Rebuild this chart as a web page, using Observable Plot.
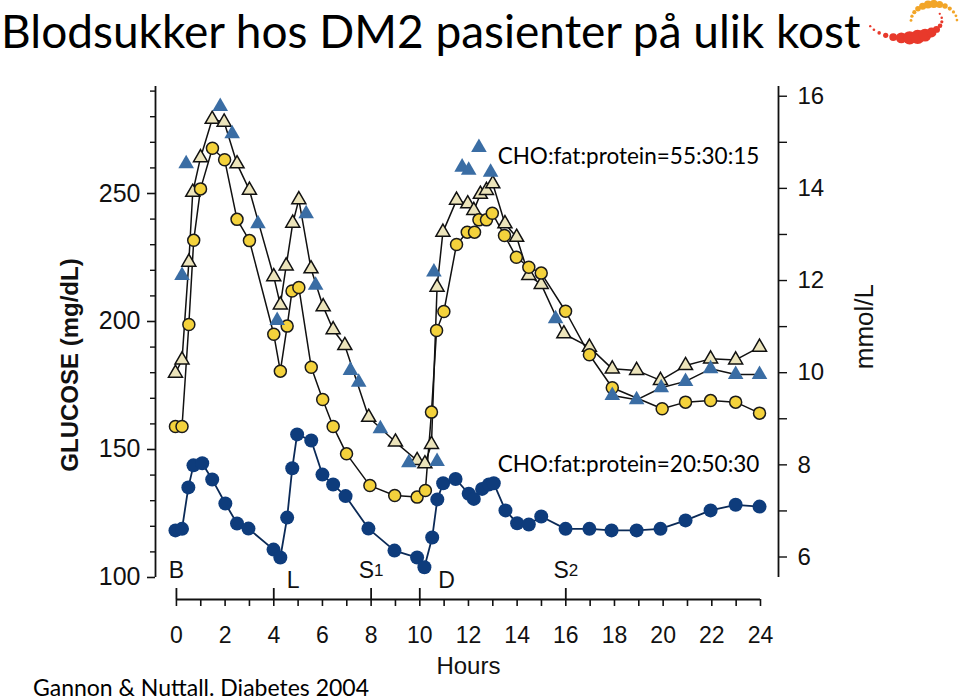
<!DOCTYPE html>
<html><head><meta charset="utf-8">
<script src="https://cdn.jsdelivr.net/npm/d3@7"></script>
<script src="https://cdn.jsdelivr.net/npm/@observablehq/plot@0.6"></script>
<style>
html,body{margin:0;padding:0;background:#fff;}
#wrap{position:relative;width:960px;height:700px;overflow:hidden;background:#fff;}
#chart{position:absolute;left:0;top:0;}
#title{position:absolute;left:1px;top:2px;font-family:Lato,"Open Sans",sans-serif;font-size:46px;line-height:58px;height:58px;white-space:nowrap;color:#000;}
#caption{position:absolute;left:33px;top:674px;font-family:Lato,"Open Sans",sans-serif;font-size:23px;line-height:26px;white-space:nowrap;color:#000;}
#logo{position:absolute;left:862px;top:0;}
</style></head>
<body>
<div id="wrap">
  <div id="chart"></div>
  <div id="title">Blodsukker hos DM2 pasienter på ulik kost</div>
  <div id="caption">Gannon &amp; Nuttall. Diabetes 2004</div>
  <svg id="logo" width="98" height="50"></svg>
</div>
<script>
// ---- data (hours, glucose mg/dL) ----
const navyH = [-0.04,0.23,0.49,0.7,1.06,1.47,2.01,2.49,2.96,3.99,4.27,4.55,4.76,4.96,5.54,6.0,6.44,6.95,7.89,8.96,9.89,10.19,10.51,10.72,10.96,11.47,12.01,12.22,12.56,12.84,13.04,13.52,14.0,14.48,14.99,15.99,16.97,17.88,18.91,19.89,20.92,21.95,22.98,23.96];
const navyG = [118.4,119.0,135.2,143.8,144.6,138.3,128.9,121.1,119.1,110.9,107.8,123.4,142.7,155.9,153.5,140.2,136.3,131.8,119.1,110.5,107.8,104.0,115.6,130.5,136.8,138.5,132.7,130.7,134.6,136.3,136.8,126.2,121.2,120.7,123.8,119.0,119.0,118.4,118.4,119.0,122.3,126.2,128.4,127.7];

const yellowH = [-0.04,0.23,0.51,0.71,0.99,1.48,1.98,2.49,3.0,4.0,4.27,4.55,4.75,5.03,5.54,6.01,6.44,6.99,7.95,8.97,9.89,10.23,10.48,10.69,10.99,11.51,11.95,12.25,12.43,12.74,12.98,13.48,13.97,14.48,14.99,15.99,16.97,17.91,19.96,20.92,21.95,22.98,23.96];
const yellowG = [159.0,159.0,198.8,231.7,251.8,267.7,263.2,239.9,231.6,195.0,180.6,198.2,211.9,213.3,182.1,169.5,159.0,148.3,135.9,132.0,131.4,134.0,164.6,196.5,203.9,230.1,234.9,234.9,239.7,239.7,242.3,233.6,225.1,221.2,218.9,204.0,187.0,174.1,165.9,168.5,169.1,168.5,164.2];

const beigeH = [-0.04,0.23,0.51,0.67,0.99,1.47,1.96,2.49,3.0,4.0,4.27,4.51,4.78,5.03,5.53,6.03,6.44,6.92,7.9,9.0,9.89,10.21,10.48,10.71,10.95,11.51,11.97,12.22,12.49,12.74,13.0,13.5,13.98,14.48,14.99,15.92,16.97,17.91,18.91,19.89,20.92,21.95,22.98,23.96];
const beigeG = [179.8,185.0,223.2,250.5,264.0,279.0,277.9,261.6,251.3,217.5,206.5,221.7,238.4,247.6,220.6,205.8,196.8,190.6,162.6,152.9,145.7,144.4,152.0,213.4,234.9,247.4,246.0,243.4,249.7,251.2,253.8,238.2,232.9,218.0,214.5,195.2,190.0,181.5,180.9,177.0,182.8,185.4,185.0,190.0];

const blueH = [0.23,0.4,1.8,2.29,3.35,4.14,5.33,5.72,7.15,7.49,8.38,9.55,10.58,10.71,11.74,12.01,12.43,12.91,15.58,17.91,18.91,19.92,20.92,21.95,22.98,23.96];
const blueG = [218.0,261.6,284.0,273.3,238.2,200.4,242.1,214.2,180.9,176.3,158.1,144.8,219.3,145.3,260.3,259.1,268.0,258.3,201.1,171.1,169.4,174.1,176.6,181.5,179.3,179.3];

// ---- ticks & labels ----
const hourLabels = [0,2,4,6,8,10,12,14,16,18,20,22,24];
const hourMinor = d3.range(0, 25, 1);
const mealHours = [0,4,8,10,16];
const mealText = ["B","L","S1","D","S2"];
const mealLabelH = [0,4.8,8,11.1,16];
const mealRow = ["up","down","up","down","up"];
const mgMajor = [100,150,200,250];
const mgMinor = [110,120,130,140,160,170,180,190,210,220,230,240,260,270,280,290];
const mmolMajor = [6,8,10,12,14,16];
const mmolMinor = [7,9,11,13,15];
const dietText = ["CHO:fat:protein=55:30:15","CHO:fat:protein=20:50:30"];
const dietH = [13.2,13.2];
const dietG = [264.5,144.2];

// ---- frame extents (data units) ----
const X_MIN = -0.86, X_MAX = 24.74, Y_MIN = 91.4, Y_TOP = 291.8, Y_AXIS_BASE = 100;
const MEAL_TICK_TOP = 95.7;

const rows = (H, G) => H.map((h, i) => ({h, g: G[i]}));
const navy = rows(navyH, navyG);
const yellow = rows(yellowH, yellowG);
const beige = rows(beigeH, beigeG);
const blue = rows(blueH, blueG);
const blueTail = blue.filter(d => d.h > 17.5);
const meals = mealText.map((t, i) => ({t, h: mealLabelH[i], row: mealRow[i]}));
const diets = dietText.map((t, i) => ({t, h: dietH[i], g: dietG[i]}));

const ink = "#111";
const none = () => "";

const chart = Plot.plot({
  width: 960, height: 700,
  marginLeft: 155, marginRight: 182, marginTop: 86, marginBottom: 101,
  x: {domain: [X_MIN, X_MAX], label: null},
  y: {domain: [Y_MIN, Y_TOP], label: null},
  style: {fontFamily: "'Liberation Sans', Arial, sans-serif", fontSize: "24px", color: ink, background: "transparent", overflow: "visible"},
  marks: [
    // axis lines
    Plot.ruleX([X_MIN], {y1: Y_AXIS_BASE, y2: Y_TOP, stroke: ink, strokeWidth: 1.8}),
    Plot.ruleX([X_MAX], {y1: Y_AXIS_BASE, y2: Y_TOP, stroke: ink, strokeWidth: 1.8}),
    Plot.ruleY([Y_MIN], {x1: 0, x2: 24, stroke: ink, strokeWidth: 1.8}),
    // left axis
    Plot.axisY({anchor: "left", ticks: mgMajor, tickSize: 8, tickPadding: 7, fontSize: 25, label: null, strokeWidth: 1.6}),
    Plot.axisY({anchor: "left", ticks: mgMinor, tickSize: 5, tickFormat: none, label: null, strokeWidth: 1.4}),
    // right axis (mmol/L)
    Plot.axisY({anchor: "right", ticks: mmolMajor.map(v => v * 18), tickFormat: v => String(Math.round(v / 18)), tickSize: 8, tickPadding: 11, fontSize: 24, label: null, strokeWidth: 1.4}),
    Plot.axisY({anchor: "right", ticks: mmolMinor.map(v => v * 18), tickSize: 8, tickFormat: none, label: null, strokeWidth: 1.4}),
    // bottom axis
    Plot.axisX({anchor: "bottom", ticks: hourMinor, tickSize: 7, tickFormat: none, label: null, strokeWidth: 1.6}),
    Plot.axisX({anchor: "bottom", ticks: hourLabels, tickSize: 0, tickPadding: 27, fontSize: 23, label: null}),
    Plot.ruleX(mealHours, {y1: Y_MIN, y2: MEAL_TICK_TOP, stroke: ink, strokeWidth: 1.8}),
    // axis titles
    Plot.text([{t: "GLUCOSE (mg/dL)"}], {x: () => X_MIN, y: () => 183, text: "t", rotate: -90, dx: -85, fontSize: 24, fontWeight: "bold"}),
    Plot.text([{t: "mmol/L"}], {x: () => X_MAX, y: () => 198, text: "t", rotate: -90, dx: 86, fontSize: 26}),
    Plot.text([{t: "Hours", h: 12}], {x: "h", frameAnchor: "bottom", text: "t", dy: 74, fontSize: 24}),
    // meal labels
    Plot.text(meals.filter(d => d.row === "up"), {x: "h", y: () => Y_AXIS_BASE, text: "t", dy: -7, fontSize: 23}),
    Plot.text(meals.filter(d => d.row === "down"), {x: "h", y: () => Y_AXIS_BASE, text: "t", dy: 3, fontSize: 23}),
    // series lines
    Plot.line(beige, {x: "h", y: "g", stroke: ink, strokeWidth: 1.5}),
    Plot.line(yellow, {x: "h", y: "g", stroke: ink, strokeWidth: 1.5}),
    Plot.line(blueTail, {x: "h", y: "g", stroke: ink, strokeWidth: 1.5}),
    Plot.line(navy, {x: "h", y: "g", stroke: "#0b2a57", strokeWidth: 1.8}),
    // series points
    Plot.dot(beige, {x: "h", y: "g", symbol: "triangle", r: 5.2, fill: "#ece4bb", stroke: ink, strokeWidth: 1.5}),
    Plot.dot(yellow, {x: "h", y: "g", r: 6, fill: "#f4d23c", stroke: "#1a1a1a", strokeWidth: 1.5}),
    Plot.dot(navy, {x: "h", y: "g", r: 7, fill: "#0e3c7c"}),
    Plot.dot(blue, {x: "h", y: "g", symbol: "triangle", r: 5.8, fill: "#3a6da4"}),
    // diet annotations
    Plot.text(diets, {x: "h", y: "g", text: "t", textAnchor: "start", fontFamily: "Lato, 'Open Sans', sans-serif", fontSize: 22.5, fill: "#000"})
  ]
});

// S1 / S2 with small digit
d3.select(chart).selectAll("text").each(function() {
  const s = this.textContent;
  const m = /^S(\d)$/.exec(s);
  if (m) {
    this.textContent = "S";
    d3.select(this).append("tspan").attr("font-size", 17).attr("dy", -2).text(m[1]);
  }
});
document.getElementById("chart").appendChild(chart);

// decorative logo (red lower arc, orange upper arc)
const logo = d3.select("#logo");
const redN = 15;
d3.range(redN).forEach(i => {
  const deg = 160 - i * (180 / (redN - 1));
  const th = deg * Math.PI / 180;
  const x = 43 + 37 * Math.cos(th);
  const y = 20 + 18 * Math.sin(th);
  const r = 1.1 + 6 * Math.exp(-Math.pow((deg - 72) / 42, 2));
  logo.append("circle").attr("cx", x).attr("cy", y).attr("r", r).attr("fill", "#e8392b");
});
const orN = 13;
d3.range(orN).forEach(i => {
  const deg = 182 + i * (175 / (orN - 1));
  const th = deg * Math.PI / 180;
  const x = 72 + 23 * Math.cos(th);
  const y = 21 + 17 * Math.sin(th);
  const r = 1.3 + 2.8 * Math.exp(-Math.pow((deg - 262) / 45, 2));
  logo.append("circle").attr("cx", x).attr("cy", y).attr("r", r).attr("fill", "#f2a527");
});
</script>
</body></html>
